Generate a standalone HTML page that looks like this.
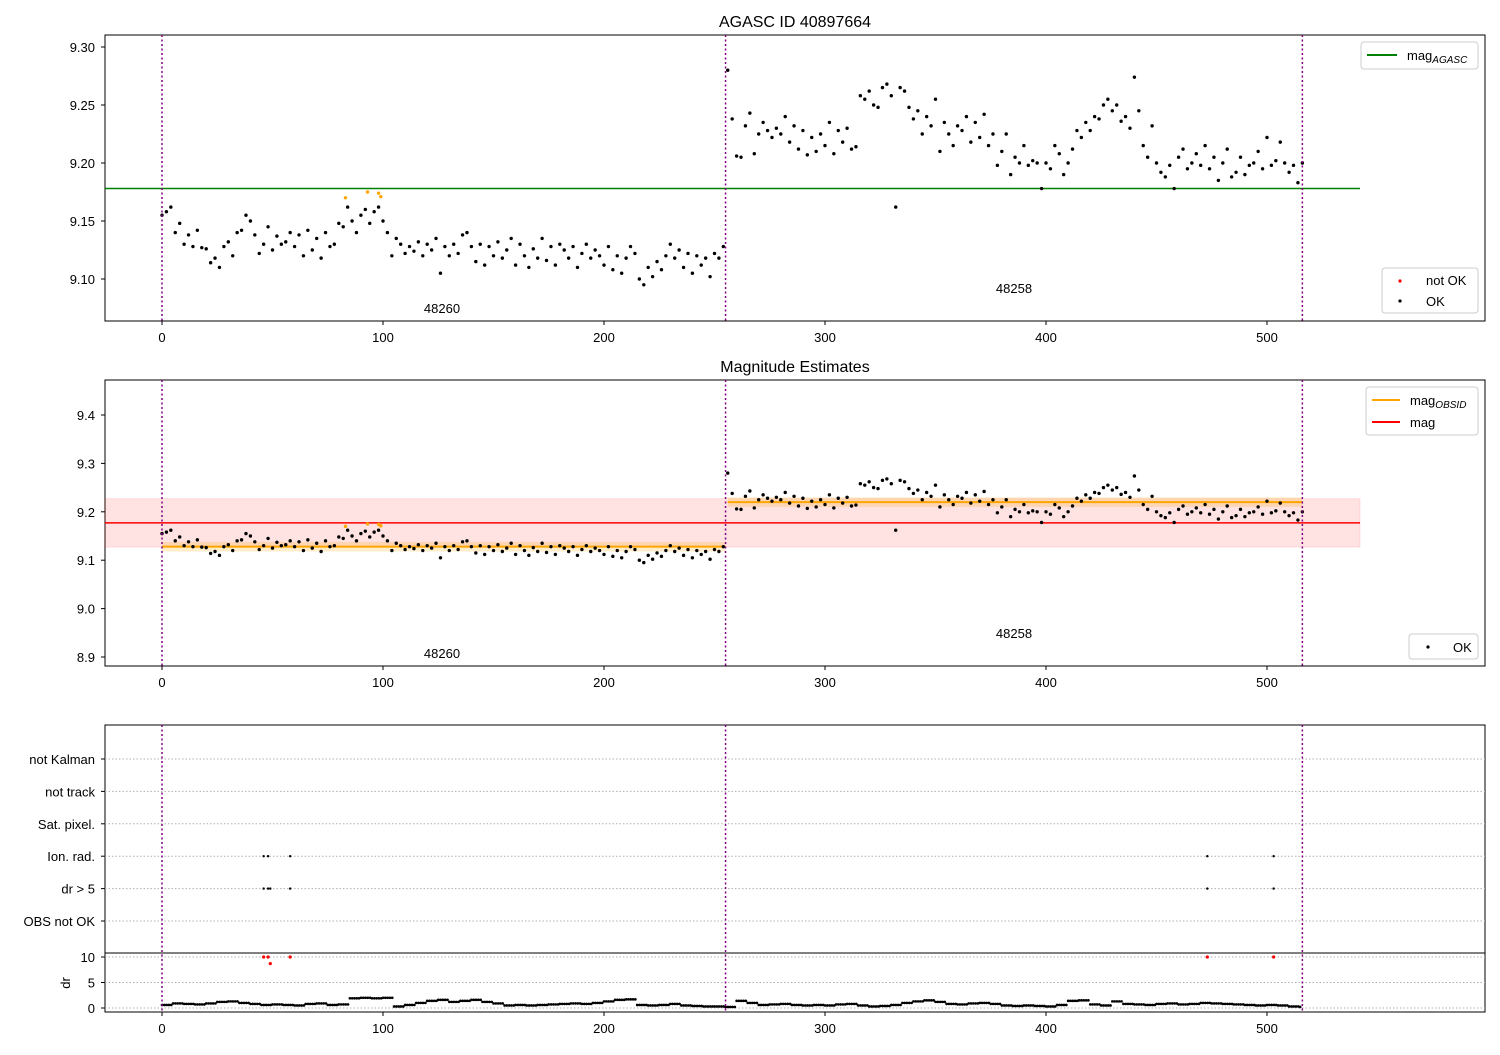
<!DOCTYPE html>
<html><head><meta charset="utf-8"><style>
body{margin:0;background:#fff;}
svg text{font-family:"Liberation Sans","DejaVu Sans",sans-serif;font-size:13px;fill:#000;}
</style></head><body>
<svg id="c" width="1500" height="1050"></svg>
<script>
// ---- data ----
const mag1Idx0 = 0;
const mag1 = [155,158,162,140,148,130,138,128,142,127,126,
114,118,110,128,132,120,140,142,155,150,
138,122,130,145,125,137,130,132,140,128,
138,120,142,125,135,118,140,128,130,148,
145,162,150,140,155,160,148,158,162,150,
140,120,135,130,122,128,124,132,120,130,
125,135,105,128,120,130,122,138,140,128,
115,130,112,128,120,132,118,125,135,112,
130,120,110,126,118,135,116,128,112,130,
125,118,128,110,122,130,118,125,120,112,
128,108,120,105,118,128,122,100,95,110,
102,115,108,120,130,118,125,110,122,105,
120,112,118,102,122,118,128];
const mag2Idx0 = 256;
const mag2 = [280,238,206,205,232,243,208,225,235,228,
222,230,225,240,218,232,212,228,207,222,
210,225,215,235,208,228,218,230,212,214,
258,255,262,250,248,265,268,258,162,265,
262,248,238,245,225,240,232,255,210,235,
225,215,232,228,240,218,235,222,242,215,
225,198,210,225,190,205,200,215,198,202,
200,178,200,195,215,208,190,200,212,228,
222,235,228,240,238,250,255,245,250,236,
240,230,274,245,215,205,232,200,192,188,
198,178,205,212,195,200,208,198,215,195,
205,185,200,212,188,192,205,190,198,200,
210,195,222,198,202,218,200,192,198,183,200];
const orangeIdx = [83,93,98,99];
const orangeVal = [9.170,9.175,9.174,9.171];
const magAGASC = 9.178;
const obsids = ["48260","48258"];
const obsStart = [0,256];
const obsEnd = [255,516];
const magObsid = [9.128,9.220];
const magMean = 9.177, magErr = 0.05;
const dr = [0.6,0.9,0.8,0.7,0.9,1.2,1.3,1.0,0.8,0.6,
0.7,0.6,0.5,0.8,0.9,0.6,0.7,1.9,2.0,1.9,
2.0,0.3,0.6,1.0,1.4,1.6,1.2,1.4,1.6,1.2,
0.9,0.5,0.6,0.5,0.6,0.7,0.8,0.9,0.8,1.0,
1.3,1.6,1.7,0.6,0.5,0.6,0.8,0.5,0.4,0.3,
0.3,0.2,1.4,1.0,0.6,0.7,0.8,0.6,0.5,0.6,
0.5,0.7,0.8,0.5,0.3,0.4,0.6,1.0,1.3,1.5,
1.2,0.8,0.7,0.9,1.0,0.8,0.5,0.4,0.5,0.4,
0.3,0.6,1.4,1.5,0.7,0.5,1.3,0.8,0.7,0.6,
0.8,0.9,0.7,0.8,1.0,0.9,0.8,0.7,0.6,0.5,
0.6,0.5,0.3,0.2];
const drStep = 5;
const drBadIdx = [46,48,49,58,473,503];
const drBadVal = [10,10,8.7,10,10,10];
const ionIdx = [46,48,58,473,503];
const dr5Idx = [46,48,49,58,473,503];
const flagRows = ["not Kalman","not track","Sat. pixel.","Ion. rad.","dr > 5","OBS not OK"];
const xTicks = [0,100,200,300,400,500];
const y1Ticks = ["9.10","9.15","9.20","9.25","9.30"];
const y2Ticks = ["8.9","9.0","9.1","9.2","9.3","9.4"];
const y4Ticks = [0,5,10];

// ---- scales ----
const X = i => 162 + i*2.21;
const Y1 = v => 279 - (v-9.10)*1160;
const Y2 = v => 415 + (9.4-v)*484;
const Y4 = v => 1008 - v*5.1;
const flagY = k => 759 + k*32.4;
const svg = document.getElementById('c');
const NS = 'http://www.w3.org/2000/svg';
function el(tag, attrs, parent){const e=document.createElementNS(NS,tag);for(const k in attrs)e.setAttribute(k,attrs[k]);(parent||svg).appendChild(e);return e;}
function txt(s,x,y,anchor,parent){const t=el('text',{x:x,y:y,'text-anchor':anchor||'start'},parent);t.textContent=s;return t;}

const boxes=[[105,35,1380,286],[105,380,1380,286],[105,725,1380,228],[105,953,1380,59]];
const boxNames=['panel-agasc','panel-magnitude','panel-flags','panel-dr'];
boxes.forEach((b,k)=>{const r=el('rect',{x:b[0],y:b[1],width:b[2],height:b[3],fill:'none',stroke:'#000','stroke-width':1});

});

let t=txt('AGASC ID 40897664',795,27,'middle');t.style.fontSize='16px';


t=txt('Magnitude Estimates',795,372,'middle');t.style.fontSize='16px';



[[321,338],[666,683],[1012,1029]].forEach(([yb,yl])=>{
  xTicks.forEach(v=>{el('line',{x1:X(v),x2:X(v),y1:yb,y2:yb+4,stroke:'#000'});
  const l=txt(String(v),X(v),yl+4,'middle');
  
  });
});
y1Ticks.forEach(s=>{const y=Y1(+s);el('line',{x1:101,x2:105,y1:y,y2:y,stroke:'#000'});const l=txt(s,95,y+5,'end');

});
y2Ticks.forEach(s=>{const y=Y2(+s);el('line',{x1:101,x2:105,y1:y,y2:y,stroke:'#000'});const l=txt(s,95,y+5,'end');

});
flagRows.forEach((s,k)=>{const y=flagY(k);el('line',{x1:105,x2:1485,y1:y,y2:y,stroke:'#b0b0b0','stroke-dasharray':'1.5,2'});el('line',{x1:101,x2:105,y1:y,y2:y,stroke:'#000'});const l=txt(s,95,y+5,'end');

});
y4Ticks.forEach(v=>{const y=Y4(v);el('line',{x1:105,x2:1485,y1:y,y2:y,stroke:'#b0b0b0','stroke-dasharray':'1.5,2'});el('line',{x1:101,x2:105,y1:y,y2:y,stroke:'#000'});const l=txt(String(v),95,y+5,'end');

});
t=txt('dr',70,983,'middle');t.setAttribute('transform','rotate(-90 70 983)');



let r=el('rect',{x:105,y:Y2(magMean+magErr),width:1255,height:Y2(magMean-magErr)-Y2(magMean+magErr),fill:'#ff0000','fill-opacity':0.11,stroke:'#ff0000','stroke-opacity':0.1});


obsStart.forEach((s,k)=>{
  const e=obsEnd[k];
  const b=el('rect',{x:X(s),y:Y2(magObsid[k]+0.01),width:X(e)-X(s),height:Y2(magObsid[k]-0.01)-Y2(magObsid[k]+0.01),fill:'#ffa500','fill-opacity':0.2});
  
  
  const l=el('line',{x1:X(s),x2:X(e),y1:Y2(magObsid[k]),y2:Y2(magObsid[k]),stroke:'#ffa500','stroke-width':2});
  
  
});
let ml=el('line',{x1:105,x2:1360,y1:Y2(magMean),y2:Y2(magMean),stroke:'#ff0000','stroke-width':1.5});


let gl=el('line',{x1:105,x2:1360,y1:Y1(magAGASC),y2:Y1(magAGASC),stroke:'green','stroke-width':1.5});



function plotMag(arr,start){arr.forEach((v,k)=>{const i=start+k*2,m=9+v/1000;
  const p=el('circle',{cx:X(i),cy:Y1(m),r:1.7,fill:'#000'});
  
  
  const q=el('circle',{cx:X(i),cy:Y2(m),r:1.7,fill:'#000'});
  
  
});}
plotMag(mag1,mag1Idx0);plotMag(mag2,mag2Idx0);
orangeIdx.forEach((i,k)=>{
  const p=el('circle',{cx:X(i),cy:Y1(orangeVal[k]),r:1.7,fill:'orange'});
  
  
  const q=el('circle',{cx:X(i),cy:Y2(orangeVal[k]),r:1.7,fill:'orange'});
  
  
});
dr.forEach((v,k)=>{const i=k*drStep;
  const s=el('line',{x1:X(i),x2:X(Math.min(i+drStep,516)),y1:Y4(v),y2:Y4(v),stroke:'#000','stroke-width':2.6,'stroke-linecap':'round','stroke-dasharray':'0.1,2.2'});
  
  
});
drBadIdx.forEach((i,k)=>{const p=el('circle',{cx:X(i),cy:Y4(drBadVal[k]),r:1.6,fill:'red'});
  
  });
ionIdx.forEach(i=>{const p=el('circle',{cx:X(i),cy:flagY(3),r:1.2,fill:'#000'});
  
  });
dr5Idx.forEach(i=>{const p=el('circle',{cx:X(i),cy:flagY(4),r:1.2,fill:'#000'});
  
  });

[0,255,516].forEach(i=>{[[35,321],[380,666],[725,1012]].forEach(([a,b])=>{
  const l=el('line',{x1:X(i),x2:X(i),y1:a,y2:b,stroke:'purple','stroke-width':1.5,'stroke-dasharray':'2,2.5'});
  
  });});
[[442,313,658],[1014,293,638]].forEach((p,k)=>{
  let a=txt(obsids[k],p[0],p[1],'middle');
  
  
  let b=txt(obsids[k],p[0],p[2],'middle');
  
  
});

function legBox(x,y,w,h,name){const g=el('g',{});
  el('rect',{x:x,y:y,width:w,height:h,rx:3,fill:'#fff','fill-opacity':0.8,stroke:'#ccc'},g);return g;}
let g=legBox(1361,42,117,27,'legend-agasc');
el('line',{x1:1367,x2:1397,y1:55,y2:55,stroke:'green','stroke-width':2},g);
let lt=txt('mag',1407,60,'start',g);let sub=el('tspan',{dy:3,'font-style':'italic'},lt);sub.textContent='AGASC';sub.style.fontSize='10px';
g=legBox(1382,268,96,45,'legend-status');
el('circle',{cx:1400,cy:281,r:1.6,fill:'red'},g);txt('not OK',1426,285,'start',g);
el('circle',{cx:1400,cy:301,r:1.6,fill:'#000'},g);txt('OK',1426,306,'start',g);
g=legBox(1366,387,112,48,'legend-mag');
el('line',{x1:1372,x2:1400,y1:400,y2:400,stroke:'orange','stroke-width':2},g);
lt=txt('mag',1410,405,'start',g);sub=el('tspan',{dy:3,'font-style':'italic'},lt);sub.textContent='OBSID';sub.style.fontSize='10px';
el('line',{x1:1372,x2:1400,y1:422,y2:422,stroke:'red','stroke-width':2},g);txt('mag',1410,427,'start',g);
g=legBox(1409,634,69,25,'legend-ok');
el('circle',{cx:1428,cy:647,r:1.6,fill:'#000'},g);txt('OK',1453,652,'start',g);
</script>
</body></html>
